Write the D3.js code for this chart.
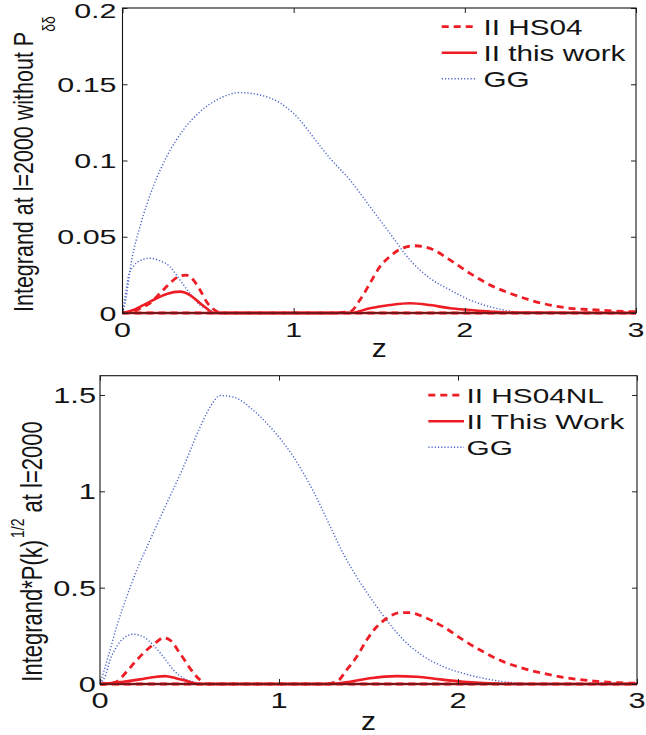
<!DOCTYPE html>
<html><head><meta charset="utf-8">
<script src="https://cdn.jsdelivr.net/npm/d3@7"></script>
<style>
body{margin:0;background:#fff}
svg{display:block}
text{font-family:"Liberation Sans",Arial,Helvetica,sans-serif;fill:#141414}
</style>
</head><body>
<svg id="c" width="646" height="735"></svg>
<script>
// ---------- DATA ----------
const xTicks = [0, 1, 2, 3];
const xTickLabels = ["0", "1", "2", "3"];
const topYTicks = [0, 0.05, 0.1, 0.15, 0.2];
const topYTickLabels = ["0", "0.05", "0.1", "0.15", "0.2"];
const botYTicks = [0, 0.5, 1, 1.5];
const botYTickLabels = ["0", "0.5", "1", "1.5"];

// top panel
const topGGhighZ = [0, 0.015, 0.054, 0.102, 0.18, 0.258, 0.355, 0.453, 0.55, 0.686, 0.842, 0.998, 1.154, 1.212, 1.329, 1.446, 1.562, 1.679, 1.796, 1.913, 2.03, 2.147, 2.26, 2.38, 3.0];
const topGGhighV = [0, 0.0064, 0.035, 0.0566, 0.083, 0.1025, 0.12, 0.132, 0.1397, 0.1445, 0.1418, 0.131, 0.1096, 0.1015, 0.0872, 0.0697, 0.0523, 0.0348, 0.0228, 0.0151, 0.0085, 0.0041, 0.0013, 0, 0];
const topGGlowZ = [0, 0.015, 0.034, 0.063, 0.102, 0.161, 0.219, 0.277, 0.336, 0.394, 0.453, 0.511, 0.55, 3.0];
const topGGlowV = [0, 0.0107, 0.0238, 0.0304, 0.0343, 0.0359, 0.0343, 0.0304, 0.0216, 0.0129, 0.0052, 0.002, 0, 0];
const topHSlowZ = [0, 0.063, 0.102, 0.161, 0.219, 0.277, 0.326, 0.371, 0.414, 0.453, 0.491, 0.53, 0.58, 3.0];
const topHSlowV = [0, 0.0008, 0.003, 0.0064, 0.0129, 0.0195, 0.0238, 0.0249, 0.0216, 0.0151, 0.0074, 0.0026, 0, 0];
const topHShighZ = [0, 1.2, 1.33, 1.387, 1.446, 1.504, 1.562, 1.621, 1.709, 1.796, 1.913, 2.03, 2.147, 2.264, 2.38, 2.497, 2.614, 2.77, 2.964, 3.0];
const topHShighV = [0, 0, 0.001, 0.0085, 0.0195, 0.0304, 0.037, 0.0418, 0.0441, 0.0424, 0.0348, 0.026, 0.0184, 0.0129, 0.0085, 0.0052, 0.0031, 0.002, 0.0009, 0.0008];
const topTWlowZ = [0, 0.063, 0.122, 0.18, 0.258, 0.336, 0.394, 0.453, 0.491, 0.53, 3.0];
const topTWlowV = [0, 0.002, 0.0052, 0.0085, 0.0125, 0.014, 0.0118, 0.0064, 0.0031, 0, 0];
const topTWhighZ = [0, 1.33, 1.446, 1.562, 1.679, 1.796, 1.913, 2.03, 2.147, 2.26, 3.0];
const topTWhighV = [0, 0, 0.0031, 0.0052, 0.0064, 0.0052, 0.0031, 0.002, 0.001, 0.0003, 0];

// bottom panel
const botGGhighZ = [0, 0.018, 0.056, 0.093, 0.149, 0.205, 0.279, 0.372, 0.466, 0.559, 0.633, 0.67, 0.745, 0.857, 0.968, 1.08, 1.192, 1.285, 1.359, 1.434, 1.508, 1.601, 1.694, 1.806, 1.918, 2.03, 2.141, 2.253, 2.36, 2.47, 3.0];
const botGGhighV = [0, 0.055, 0.176, 0.297, 0.452, 0.59, 0.746, 0.936, 1.126, 1.333, 1.463, 1.497, 1.489, 1.42, 1.316, 1.18, 1.0, 0.82, 0.677, 0.556, 0.452, 0.332, 0.23, 0.145, 0.09, 0.055, 0.03, 0.012, 0.004, 0, 0];
const botGGlowZ = [0, 0.028, 0.056, 0.093, 0.13, 0.186, 0.242, 0.298, 0.354, 0.41, 0.466, 0.521, 0.58, 3.0];
const botGGlowV = [0, 0.038, 0.124, 0.193, 0.237, 0.258, 0.245, 0.202, 0.141, 0.073, 0.03, 0.012, 0, 0];
const botHSlowZ = [0, 0.05, 0.093, 0.149, 0.205, 0.261, 0.317, 0.354, 0.391, 0.447, 0.503, 0.559, 0.6, 3.0];
const botHSlowV = [0, 0.002, 0.012, 0.064, 0.124, 0.176, 0.219, 0.24, 0.228, 0.159, 0.081, 0.021, 0, 0];
const botHShighZ = [0, 1.25, 1.322, 1.378, 1.434, 1.49, 1.546, 1.601, 1.676, 1.732, 1.806, 1.918, 2.03, 2.141, 2.253, 2.365, 2.477, 2.588, 2.737, 2.89, 2.98, 3.0];
const botHShighV = [0, 0, 0.012, 0.073, 0.141, 0.228, 0.297, 0.34, 0.37, 0.37, 0.349, 0.297, 0.228, 0.167, 0.116, 0.081, 0.055, 0.035, 0.017, 0.007, 0.004, 0.004];
const botTWlowZ = [0, 0.037, 0.13, 0.223, 0.317, 0.363, 0.428, 0.484, 0.55, 3.0];
const botTWlowV = [0, 0.002, 0.012, 0.024, 0.038, 0.041, 0.029, 0.016, 0, 0];
const botTWhighZ = [0, 1.285, 1.397, 1.508, 1.657, 1.769, 1.9, 2.03, 2.17, 2.32, 3.0];
const botTWhighV = [0, 0, 0.012, 0.03, 0.041, 0.038, 0.024, 0.012, 0.004, 0, 0];

const topLegend = ["II HS04", "II this work", "GG"];
const botLegend = ["II HS04NL", "II This Work", "GG"];

// ---------- STYLE ----------
const RED = "#ee1d25", BLUE = "#4a62c8";
const styles = {
  dashed: {stroke: RED, width: 2.8, dash: "7,5"},
  solid:  {stroke: RED, width: 2.6, dash: null},
  dotted: {stroke: BLUE, width: 1.4, dash: "1.2,2"}
};

const svg = d3.select("#c");

function stext(g, x, y, str, size, sx, anchor, dy) {
  return g.append("text")
    .attr("transform", `translate(${x},${y}) scale(${sx},1)`)
    .attr("font-size", size)
    .attr("text-anchor", anchor || "start")
    .attr("dy", dy || 0)
    .text(str);
}

function drawPanel(p) {
  const x = d3.scaleLinear().domain([0, 3]).range([p.left, p.right]);
  const y = d3.scaleLinear().domain([0, p.ymax]).range([p.bottom, p.top]);
  const g = svg.append("g");
  const line = d3.line().x(d => x(d[0])).y(d => y(d[1])).curve(d3.curveMonotoneX);

  const order = ["dotted", "dashed", "solid"];
  order.forEach(st => {
    p.series.filter(s => s.style === st).forEach(s => {
      const S = styles[s.style];
      g.append("path").datum(d3.zip(s.z, s.v))
        .attr("d", line).attr("fill", "none")
        .attr("stroke", S.stroke).attr("stroke-width", S.width)
        .attr("stroke-dasharray", S.dash)
        .attr("stroke-linejoin", "round");
    });
  });

  // ticks (inside, all four sides)
  const tk = 5;
  const axB = g.append("g").attr("transform", `translate(0,${p.bottom})`).call(d3.axisBottom(x).tickValues(xTicks).tickSize(-tk).tickFormat(""));
  const axT = g.append("g").attr("transform", `translate(0,${p.top})`).call(d3.axisTop(x).tickValues(xTicks).tickSize(-tk).tickFormat(""));
  const axL = g.append("g").attr("transform", `translate(${p.left},0)`).call(d3.axisLeft(y).tickValues(p.yTicks).tickSize(-tk).tickFormat(""));
  const axR = g.append("g").attr("transform", `translate(${p.right},0)`).call(d3.axisRight(y).tickValues(p.yTicks).tickSize(-tk).tickFormat(""));
  [axB, axT, axL, axR].forEach(a => {
    a.select(".domain").remove();
    a.selectAll("text").remove();
    a.selectAll("line").attr("stroke", "#222").attr("stroke-width", 1);
  });
  g.append("rect").attr("x", p.left).attr("y", p.top)
    .attr("width", p.right - p.left).attr("height", p.bottom - p.top)
    .attr("fill", "none").attr("stroke", "#141414").attr("stroke-width", 1.1);

  // tick labels
  xTicks.forEach((t, i) => stext(g, x(t), p.xLabBase, xTickLabels[i], p.tickSize, p.tickSx, "middle"));
  p.yTicks.forEach((t, i) => stext(g, p.yLabRight, Math.max(y(t), 10.5), p.yTickLabels[i], p.tickSize, p.tickSx, "end", "0.36em"));

  // x label
  stext(g, (p.left + p.right) / 2, p.zBase, "z", 25, 1.2, "middle");

  // legend
  p.legend.forEach((lab, i) => {
    const b = p.legBase[i];
    const st = styles[p.legStyles[i]];
    g.append("line").attr("x1", p.legX0).attr("x2", p.legX1)
      .attr("y1", b - 7.8).attr("y2", b - 7.8)
      .attr("stroke", st.stroke).attr("stroke-width", st.width)
      .attr("stroke-dasharray", st.dash);
    stext(g, p.legTextX, b, lab, p.legSize, p.legSx, "start");
  });
  return g;
}

const topPanel = drawPanel({
  left: 122.5, right: 636, top: 8, bottom: 313, ymax: 0.2,
  yTicks: topYTicks, yTickLabels: topYTickLabels,
  tickSize: 21, tickSx: 1.45, xLabBase: 336.5, yLabRight: 116.5, zBase: 357,
  series: [
    {z: topGGhighZ, v: topGGhighV, style: "dotted"},
    {z: topGGlowZ, v: topGGlowV, style: "dotted"},
    {z: topHSlowZ, v: topHSlowV, style: "dashed"},
    {z: topHShighZ, v: topHShighV, style: "dashed"},
    {z: topTWlowZ, v: topTWlowV, style: "solid"},
    {z: topTWhighZ, v: topTWhighV, style: "solid"}
  ],
  legend: topLegend, legStyles: ["dashed", "solid", "dotted"],
  legBase: [34.5, 60.5, 86.5], legX0: 441.7, legX1: 477, legTextX: 483.5, legSize: 22, legSx: 1.35
});

const botPanel = drawPanel({
  left: 100, right: 637, top: 375.7, bottom: 684, ymax: 1.6,
  yTicks: botYTicks, yTickLabels: botYTickLabels,
  tickSize: 22, tickSx: 1.4, xLabBase: 708, yLabRight: 96, zBase: 730,
  series: [
    {z: botGGhighZ, v: botGGhighV, style: "dotted"},
    {z: botGGlowZ, v: botGGlowV, style: "dotted"},
    {z: botHSlowZ, v: botHSlowV, style: "dashed"},
    {z: botHShighZ, v: botHShighV, style: "dashed"},
    {z: botTWlowZ, v: botTWlowV, style: "solid"},
    {z: botTWhighZ, v: botTWhighV, style: "solid"}
  ],
  legend: botLegend, legStyles: ["dashed", "solid", "dotted"],
  legBase: [403, 429, 455], legX0: 428.3, legX1: 464, legTextX: 466.5, legSize: 21, legSx: 1.42
});

// y labels (rotated)
const yl1 = svg.append("text")
  .attr("transform", "translate(33.3,312) scale(1.3,1) rotate(-90)")
  .attr("font-size", 21.5).attr("text-anchor", "start");
yl1.append("tspan").text("Integrand at l=2000 without P");
yl1.append("tspan").attr("font-size", 14).attr("dy", 16.5).text("δδ");

const yl2 = svg.append("text")
  .attr("transform", "translate(41.7,681.7) scale(1.3,1) rotate(-90)")
  .attr("font-size", 22).attr("text-anchor", "start");
yl2.append("tspan").text("Integrand*P(k)");
yl2.append("tspan").attr("font-size", 14).attr("dy", -14).attr("dx", 2).text("1/2");
yl2.append("tspan").attr("dy", 14).text(" at l=2000");
</script>
</body></html>
